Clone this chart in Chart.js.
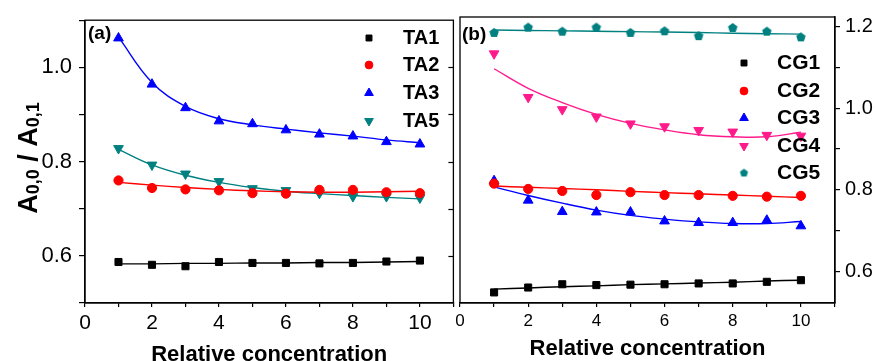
<!DOCTYPE html>
<html><head><meta charset="utf-8">
<script src="https://cdn.jsdelivr.net/npm/chart.js@4.4.1/dist/chart.umd.min.js"></script>
<style>
html,body{margin:0;padding:0;background:#fff;}
#wrap{position:relative;width:879px;height:361px;overflow:hidden;background:#fff;}
#ca{position:absolute;left:0;top:0;}
#cb{position:absolute;left:440px;top:0;}
</style></head><body>
<div id="wrap"><canvas id="ca" width="460" height="361"></canvas><canvas id="cb" width="439" height="361"></canvas></div>
<script>
// ---- data ----
const concentration = [1, 2, 3, 4, 5, 6, 7, 8, 9, 10];
const xTickValues = [0, 2, 4, 6, 8, 10];
const xTickMarks = [0, 1, 2, 3, 4, 5, 6, 7, 8, 9, 10, 11];
const yTickValuesA = [0.6, 0.8, 1.0];
const yTickMarksA = [0.5, 0.6, 0.7, 0.8, 0.9, 1.0, 1.1];
const yTickValuesB = [0.6, 0.8, 1.0, 1.2];
const yTickMarksB = [0.6, 0.7, 0.8, 0.9, 1.0, 1.1, 1.2];

const TA1 = [0.587, 0.581, 0.578, 0.587, 0.585, 0.585, 0.584, 0.585, 0.588, 0.590];
const TA2 = [0.760, 0.744, 0.741, 0.739, 0.733, 0.732, 0.740, 0.740, 0.735, 0.733];
const TA3 = [1.062, 0.964, 0.914, 0.886, 0.880, 0.867, 0.858, 0.854, 0.842, 0.837];
const TA5 = [0.828, 0.793, 0.774, 0.758, 0.743, 0.739, 0.733, 0.726, 0.726, 0.723];
const TA1fit = [0.583, 0.583, 0.584, 0.584, 0.585, 0.585, 0.586, 0.586, 0.587, 0.588];
const TA2fit = [0.756, 0.750, 0.745, 0.741, 0.738, 0.736, 0.735, 0.735, 0.736, 0.737];
const TA3fit = [1.064, 0.968, 0.917, 0.891, 0.878, 0.869, 0.861, 0.854, 0.846, 0.840];
const TA5fit = [0.826, 0.793, 0.771, 0.756, 0.745, 0.737, 0.732, 0.728, 0.724, 0.721];

const CG1 = [0.548, 0.560, 0.568, 0.566, 0.567, 0.568, 0.570, 0.570, 0.574, 0.578];
const CG2 = [0.815, 0.802, 0.797, 0.787, 0.794, 0.787, 0.787, 0.785, 0.783, 0.785];
const CG3 = [0.822, 0.774, 0.746, 0.745, 0.745, 0.723, 0.719, 0.719, 0.725, 0.711];
const CG4 = [1.134, 1.027, 0.997, 0.979, 0.962, 0.955, 0.946, 0.942, 0.934, 0.932];
const CG5 = [1.185, 1.198, 1.188, 1.198, 1.185, 1.189, 1.177, 1.197, 1.188, 1.174];
const CG1fit = [0.556, 0.559, 0.562, 0.564, 0.567, 0.569, 0.571, 0.573, 0.576, 0.578];
const CG2fit = [0.809, 0.806, 0.803, 0.800, 0.796, 0.793, 0.790, 0.787, 0.784, 0.781];
const CG3fit = [0.807, 0.786, 0.767, 0.750, 0.737, 0.728, 0.721, 0.717, 0.717, 0.722];
const CG4fit = [1.097, 1.049, 1.014, 0.985, 0.963, 0.947, 0.935, 0.930, 0.930, 0.941];
const CG5fit = [1.192, 1.191, 1.190, 1.189, 1.188, 1.187, 1.186, 1.184, 1.183, 1.182];

// ---- styling ----
const FONT = 'Liberation Sans, Arial, Helvetica, sans-serif';
const BLACK = '#000000', RED = '#ff0000', BLUE = '#0000ff', TEAL = '#008080', PINK = '#ff1a8c';
Chart.defaults.color = '#000';
Chart.defaults.font.family = FONT;

function pentagon(color, r) {
  const c = document.createElement('canvas');
  const s = Math.ceil(r * 2 + 2);
  c.width = s; c.height = s;
  const g = c.getContext('2d');
  g.fillStyle = color;
  g.beginPath();
  for (let i = 0; i < 5; i++) {
    const a = -Math.PI / 2 + i * 2 * Math.PI / 5;
    const px = s / 2 + r * Math.cos(a), py = s / 2 + r * Math.sin(a);
    if (i === 0) g.moveTo(px, py); else g.lineTo(px, py);
  }
  g.closePath(); g.fill();
  return c;
}
const pentData = pentagon(TEAL, 5);
const pentLegend = pentagon(TEAL, 4.3);

const pts = ys => concentration.map((x, i) => ({x: x, y: ys[i]}));
function markerSet(label, ys, color, style, radius, rotation, legendRadius) {
  return {label, data: pts(ys), isMarker: true, showLine: false, order: 0,
    backgroundColor: color, borderColor: color, borderWidth: style === 'img' ? 0 : 1,
    pointStyle: style === 'img' ? pentData : style, pointRadius: radius, pointRotation: rotation || 0,
    legendStyle: style, legendRadius, legendRotation: rotation || 0};
}
function fitSet(ys, color) {
  return {label: '', data: pts(ys), showLine: true, order: 1, borderColor: color, backgroundColor: color,
    borderWidth: 1.4, pointRadius: 0, tension: 0.4, fill: false};
}

const framePlugin = {
  id: 'frame',
  afterDraw(chart, args, o) {
    const {ctx, chartArea: a} = chart;
    ctx.save(); ctx.strokeStyle = '#000'; ctx.lineWidth = 1.3;
    ctx.strokeRect(a.left, a.top, a.right - a.left, a.bottom - a.top);
    if (o && o.innerRightTicks) {
      const ys = chart.scales.y;
      ctx.lineWidth = 1.2;
      o.innerRightTicks.forEach(v => {
        const py = Math.round(ys.getPixelForValue(v)) + 0.5;
        ctx.beginPath(); ctx.moveTo(a.right, py); ctx.lineTo(a.right - 5, py); ctx.stroke();
      });
    }
    ctx.restore();
  }
};
const legendPlugin = {
  id: 'markerLegend',
  afterDraw(chart, args, o) {
    const ctx = chart.ctx;
    const items = chart.data.datasets.filter(d => d.isMarker);
    ctx.save();
    items.forEach((d, i) => {
      const y = o.rows[i];
      ctx.fillStyle = d.backgroundColor; ctx.strokeStyle = d.borderColor; ctx.lineWidth = 1;
      const st = d.legendStyle === 'img' ? pentLegend : d.legendStyle;
      Chart.helpers.drawPoint(ctx, {pointStyle: st, rotation: d.legendRotation, radius: d.legendRadius, borderWidth: st === pentLegend ? 0 : 1}, o.markerX, y);
      ctx.fillStyle = '#000'; ctx.font = 'bold ' + o.size + 'px ' + FONT;
      ctx.textBaseline = 'middle'; ctx.textAlign = 'left';
      ctx.fillText(d.label, o.textX, y);
    });
    ctx.restore();
  }
};
const annotPlugin = {
  id: 'annot',
  afterDraw(chart, args, o) {
    const ctx = chart.ctx;
    ctx.save();
    ctx.fillStyle = '#000';
    ctx.font = 'bold ' + o.panelSize + 'px ' + FONT;
    ctx.textBaseline = 'middle'; ctx.textAlign = 'left';
    ctx.fillText(o.panel, o.panelX, o.panelY);
    if (o.yTitle) {
      const parts = o.yTitle;
      ctx.translate(o.yTitleX, o.yTitleY);
      ctx.rotate(-Math.PI / 2);
      let total = 0;
      parts.forEach(p => { ctx.font = 'bold ' + p.size + 'px ' + FONT; p.w = ctx.measureText(p.t).width; total += p.w; });
      let x = -total / 2;
      ctx.textBaseline = 'alphabetic'; ctx.textAlign = 'left';
      parts.forEach(p => { ctx.font = 'bold ' + p.size + 'px ' + FONT; ctx.fillText(p.t, x, o.baseline + p.dy); x += p.w; });
    }
    ctx.restore();
  }
};

const tenth = v => Math.round(v * 10);
const setTicks = list => s => { s.ticks = list.map(v => ({value: v})); };

function xScale(fontSize, titlePadBottom) {
  return {type: 'linear', position: 'bottom', min: 0, max: 11,
    ticks: {stepSize: 1, autoSkip: false, maxRotation: 0, padding: 4, color: '#000', font: {family: FONT, size: fontSize},
      callback: v => xTickValues.includes(Math.round(v)) ? String(Math.round(v)) : ''},
    grid: {drawOnChartArea: false, drawTicks: true, tickLength: 4, color: '#000', lineWidth: 1.2},
    border: {display: true, color: '#000', width: 1.3},
    title: {display: true, text: 'Relative concentration', color: '#000', font: {family: FONT, size: 22, weight: 'bold'},
      padding: {top: 0, bottom: titlePadBottom}},
    afterBuildTicks: setTicks(xTickMarks),
    afterFit: s => { s.height = 58; }
  };
}

new Chart(document.getElementById('ca'), {
  type: 'scatter',
  data: {datasets: [
    markerSet('TA1', TA1, BLACK, 'rect', 5, 0, 4.2),
    markerSet('TA2', TA2, RED, 'circle', 4.6, 0, 3.9),
    markerSet('TA3', TA3, BLUE, 'triangle', 5.6, 0, 5),
    markerSet('TA5', TA5, TEAL, 'triangle', 5.6, 180, 5),
    fitSet(TA1fit, BLACK), fitSet(TA2fit, RED), fitSet(TA3fit, BLUE), fitSet(TA5fit, TEAL)
  ]},
  options: {
    responsive: false, animation: false, devicePixelRatio: 1,
    layout: {padding: {left: 0, top: 16, right: 1, bottom: 0}},
    plugins: {legend: {display: false}, tooltip: {enabled: false},
      frame: {innerRightTicks: [0.6, 0.7, 0.8, 0.9, 1.0]},
      markerLegend: {markerX: 369, textX: 403, rows: [38, 65, 93, 121], size: 20},
      annot: {panel: '(a)', panelX: 88, panelY: 34, panelSize: 19,
        yTitle: [{t: 'A', size: 27, dy: 0}, {t: '0,0', size: 18, dy: 2}, {t: ' / ', size: 27, dy: 0}, {t: 'A', size: 27, dy: 0}, {t: '0,1', size: 18, dy: 2}],
        yTitleX: 27, yTitleY: 158, baseline: 9.7}
    },
    scales: {
      x: xScale(21, -7),
      y: {type: 'linear', position: 'left', min: 0.5, max: 1.1,
        ticks: {stepSize: 0.1, autoSkip: false, padding: 7, color: '#000', font: {family: FONT, size: 22},
          callback: v => yTickValuesA.some(t => tenth(t) === tenth(v)) ? v.toFixed(1) : ''},
        grid: {drawOnChartArea: false, drawTicks: true, tickLength: 6, color: '#000', lineWidth: 1.2},
        border: {display: true, color: '#000', width: 1.3},
        afterBuildTicks: setTicks(yTickMarksA),
        afterFit: s => { s.width = 85; }
      }
    }
  },
  plugins: [framePlugin, legendPlugin, annotPlugin]
});

new Chart(document.getElementById('cb'), {
  type: 'scatter',
  data: {datasets: [
    markerSet('CG1', CG1, BLACK, 'rect', 5, 0, 4.2),
    markerSet('CG2', CG2, RED, 'circle', 4.6, 0, 3.9),
    markerSet('CG3', CG3, BLUE, 'triangle', 5.6, 0, 5),
    markerSet('CG4', CG4, PINK, 'triangle', 5.6, 180, 5),
    markerSet('CG5', CG5, TEAL, 'img', 5, 0, 4.3),
    fitSet(CG1fit, BLACK), fitSet(CG2fit, RED), fitSet(CG3fit, BLUE), fitSet(CG4fit, PINK), fitSet(CG5fit, TEAL)
  ]},
  options: {
    responsive: false, animation: false, devicePixelRatio: 1,
    layout: {padding: {left: 20, top: 15, right: 0, bottom: 0}},
    plugins: {legend: {display: false}, tooltip: {enabled: false},
      markerLegend: {markerX: 304, textX: 337, rows: [63, 91, 118, 146, 173], size: 21},
      annot: {panel: '(b)', panelX: 22, panelY: 35, panelSize: 19}
    },
    scales: {
      x: xScale(17, -1),
      y: {type: 'linear', position: 'right', min: 0.522, max: 1.224,
        ticks: {stepSize: 0.1, autoSkip: false, padding: 5, color: '#000', font: {family: FONT, size: 20},
          callback: v => yTickValuesB.some(t => tenth(t) === tenth(v)) ? v.toFixed(1) : ''},
        grid: {drawOnChartArea: false, drawTicks: true, tickLength: 5, color: '#000', lineWidth: 1.2},
        border: {display: true, color: '#000', width: 1.3},
        afterBuildTicks: setTicks(yTickMarksB),
        afterFit: s => { s.width = 44; }
      }
    }
  },
  plugins: [framePlugin, legendPlugin, annotPlugin]
});
</script>
</body></html>
